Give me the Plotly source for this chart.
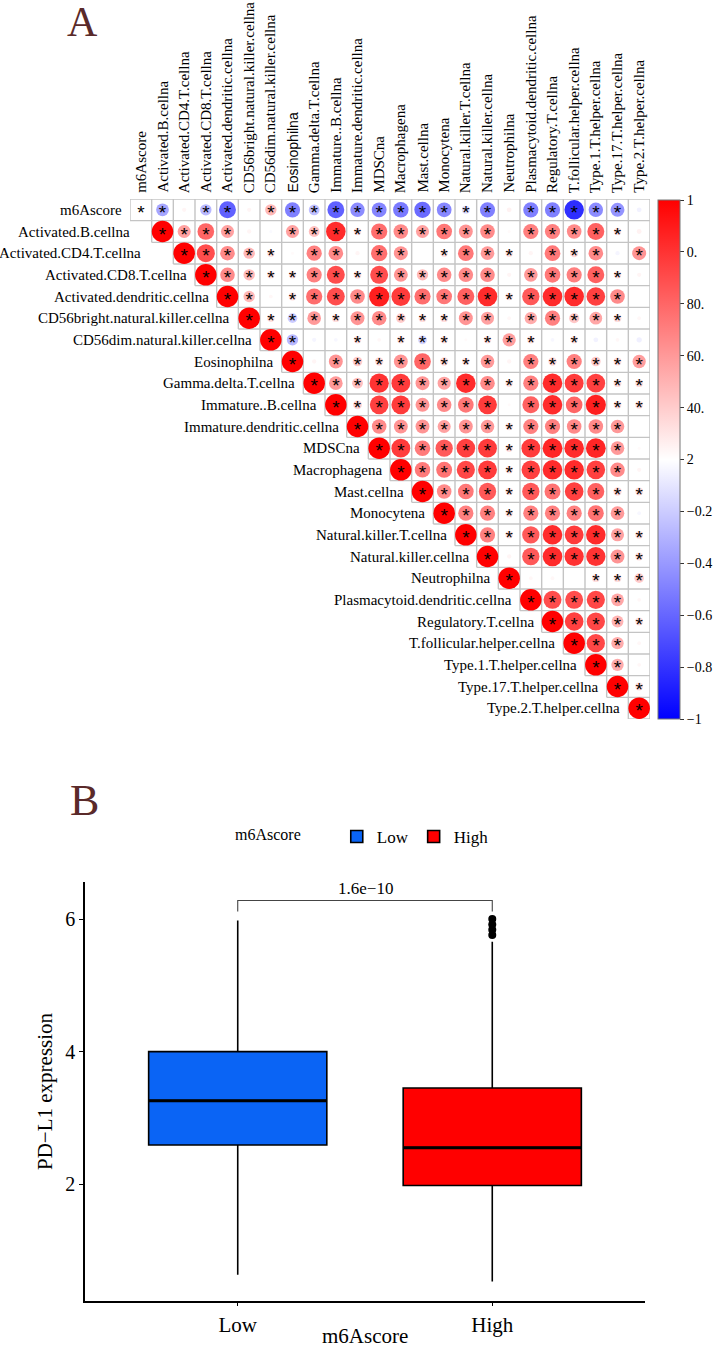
import numpy as np
import plotly.graph_objects as go

# ---------------- data ----------------
cells = [
    "m6Ascore", "Activated.B.cellna", "Activated.CD4.T.cellna", "Activated.CD8.T.cellna",
    "Activated.dendritic.cellna", "CD56bright.natural.killer.cellna", "CD56dim.natural.killer.cellna",
    "Eosinophilna", "Gamma.delta.T.cellna", "Immature..B.cellna", "Immature.dendritic.cellna",
    "MDSCna", "Macrophagena", "Mast.cellna", "Monocytena", "Natural.killer.T.cellna",
    "Natural.killer.cellna", "Neutrophilna", "Plasmacytoid.dendritic.cellna", "Regulatory.T.cellna",
    "T.follicular.helper.cellna", "Type.1.T.helper.cellna", "Type.17.T.helper.cellna",
    "Type.2.T.helper.cellna",
]

# upper triangle of the correlation matrix, row i holds columns i..23
corr_upper = [
    [1, -0.35, 0.04, -0.28, -0.62, 0.04, 0.28, -0.5, -0.25, -0.62, -0.45, -0.48, -0.52, -0.58, -0.47, -0.14, -0.5, 0.05, -0.5, -0.5, -0.82, -0.45, -0.42, -0.05],
    [1, 0.37, 0.6, 0.37, 0.04, -0.02, 0.37, 0.25, 0.83, 0.12, 0.57, 0.46, 0.37, 0.53, 0.42, 0.46, 0.02, 0.5, 0.5, 0.46, 0.62, 0.12, 0.05],
    [1, 0.7, 0.46, 0.28, 0.12, 0.02, 0.5, 0.46, 0.04, 0.57, 0.42, 0.0, 0.12, 0.53, 0.4, 0.12, 0.04, 0.53, 0.15, 0.46, -0.04, 0.42],
    [1, 0.46, 0.28, 0.12, 0.12, 0.5, 0.7, 0.13, 0.7, 0.42, 0.28, 0.46, 0.46, 0.46, 0.04, 0.4, 0.53, 0.5, 0.62, 0.12, 0.04],
    [1, 0.28, 0.03, 0.13, 0.57, 0.7, 0.46, 0.88, 0.77, 0.57, 0.53, 0.62, 0.83, 0.12, 0.65, 0.83, 0.83, 0.75, 0.46, 0.0],
    [1, 0.12, -0.2, 0.4, 0.13, 0.42, 0.46, 0.2, 0.13, 0.13, 0.42, 0.37, 0.03, 0.33, 0.5, 0.22, 0.35, 0.13, 0.03],
    [1, -0.28, -0.04, -0.03, 0.12, 0.03, 0.12, -0.17, 0.12, 0.02, 0.12, 0.38, 0.12, -0.03, 0.12, -0.05, 0.03, -0.06],
    [1, 0.04, 0.42, 0.2, 0.15, 0.42, 0.6, 0.15, 0.12, 0.4, 0.04, 0.5, 0.15, 0.5, 0.2, 0.13, 0.38],
    [1, 0.4, 0.25, 0.8, 0.77, 0.42, 0.37, 0.83, 0.46, 0.12, 0.5, 0.83, 0.77, 0.75, 0.13, 0.13],
    [1, 0.17, 0.75, 0.77, 0.42, 0.46, 0.53, 0.77, 0.02, 0.62, 0.83, 0.6, 0.88, 0.13, 0.13],
    [1, 0.46, 0.42, 0.42, 0.37, 0.42, 0.4, 0.12, 0.5, 0.5, 0.46, 0.46, 0.4, 0.0],
    [1, 0.77, 0.52, 0.65, 0.75, 0.77, 0.12, 0.77, 0.85, 0.83, 0.85, 0.4, 0.02],
    [1, 0.52, 0.55, 0.72, 0.77, 0.12, 0.75, 0.83, 0.83, 0.75, 0.46, 0.04],
    [1, 0.46, 0.53, 0.65, 0.12, 0.65, 0.55, 0.75, 0.62, 0.15, 0.13],
    [1, 0.5, 0.5, 0.12, 0.5, 0.5, 0.5, 0.55, 0.4, -0.03],
    [1, 0.5, 0.12, 0.65, 0.83, 0.77, 0.83, 0.37, 0.13],
    [1, 0.04, 0.65, 0.83, 0.8, 0.8, 0.42, 0.13],
    [1, 0.03, 0.03, 0.0, 0.13, 0.13, 0.2],
    [1, 0.7, 0.7, 0.72, 0.35, 0.03],
    [1, 0.75, 0.72, 0.3, 0.13],
    [1, 0.72, 0.33, 0.03],
    [1, 0.33, 0.03],
    [1, 0.13],
    [1],
]
sig_threshold = 0.1
hidden_cells = [(0, 0)]

cb_tickvals = [1, 0.8, 0.6, 0.4, 0.2, 0, -0.2, -0.4, -0.6, -0.8, -1]
cb_ticktext = ["1", "0.", "80.", "60.", "40.", "2", "\u22120.2", "\u22120.4", "\u22120.6", "\u22120.8", "\u22121"]

box_groups = ["Low", "High"]
box_colors = ["#0A64F5", "#FF0000"]
box_q1 = [2.59, 1.98]
box_median = [3.26, 2.55]
box_q3 = [4.00, 3.45]
box_lowerfence = [0.63, 0.53]
box_upperfence = [5.98, 5.66]
high_outliers = [6.00, 5.92, 5.84, 5.76]
p_value_text = "1.6e\u221210"
bracket_y = 6.28
bracket_drop = 0.165
y_ticks = [2, 4, 6]

# ---------------- layout helpers ----------------
W, H = 714, 1350
SERIF = "Liberation Serif"
SANS = "Liberation Sans"


def fx(p):
    return p / W


def fy(p):
    return 1 - p / H


n = len(cells)
MX0, MX1, MY0, MY1 = 130, 650, 199, 719
circle_full = 21.5
star_size = 19
star_drop = 0.2

fig = go.Figure()

# grid of the upper triangle
gxs, gys = [], []
for k in range(n + 1):
    gxs += [max(k - 1, 0) - 0.5, n - 0.5, None]
    gys += [k - 0.5, k - 0.5, None]
for k in range(n + 1):
    gxs += [k - 0.5, k - 0.5, None]
    gys += [-0.5, min(k, n - 1) + 0.5, None]
fig.add_trace(go.Scatter(x=gxs, y=gys, mode="lines", line=dict(color="#c4c4c4", width=1.4),
                         hoverinfo="skip", showlegend=False, xaxis="x", yaxis="y"))

cx, cy, cv, cs = [], [], [], []
sx, sy = [], []
for i in range(n):
    for j in range(i, n):
        v = corr_upper[i][j - i]
        if (i, j) not in hidden_cells:
            cx.append(j)
            cy.append(i)
            cv.append(v)
            cs.append(circle_full * np.sqrt(abs(v)))
        if abs(v) >= sig_threshold:
            sx.append(j)
            sy.append(i + star_drop)

fig.add_trace(go.Scatter(
    x=cx, y=cy, mode="markers", hoverinfo="skip", showlegend=False, xaxis="x", yaxis="y",
    marker=dict(size=cs, color=cv, cmin=-1, cmax=1,
                colorscale=[[0, "#0000FF"], [0.5, "#FFFFFF"], [1, "#FF0000"]],
                line=dict(width=0), opacity=1,
                showscale=True,
                colorbar=dict(x=fx(658), xanchor="left", xpad=0, ypad=0,
                              y=fy(200), yanchor="top", len=(719 - 200) / H, lenmode="fraction",
                              thickness=22, thicknessmode="pixels",
                              outlinewidth=1, outlinecolor="#777777",
                              tickvals=cb_tickvals, ticktext=cb_ticktext,
                              ticks="outside", ticklen=4, tickcolor="#333333",
                              tickfont=dict(family=SERIF, size=14, color="black"))),
))

# significance asterisks as text
fig.add_trace(go.Scatter(x=sx, y=sy, mode="text", text=["*"] * len(sx),
                         textposition="middle center",
                         textfont=dict(family=SANS, size=star_size, color="black"),
                         hoverinfo="skip", showlegend=False, xaxis="x", yaxis="y"))

annotations = []
label_right_px = {1: 132, 2: 143}
for i, name in enumerate(cells):
    if i in label_right_px:
        annotations.append(dict(text=name, xref="paper", yref="y", x=fx(label_right_px[i]), y=i,
                                xanchor="right", yanchor="middle", showarrow=False,
                                font=dict(family=SERIF, size=15, color="black")))
    else:
        annotations.append(dict(text=name, xref="x", yref="y", x=i - 0.5, y=i, xshift=-6,
                                xanchor="right", yanchor="middle", showarrow=False,
                                font=dict(family=SERIF, size=15, color="black")))
col_font_override = {7: SANS}
for j, name in enumerate(cells):
    fam = col_font_override.get(j, SERIF)
    annotations.append(dict(text=name, xref="x", yref="paper", x=j, y=fy(195), textangle=-90,
                            xanchor="center", yanchor="bottom", showarrow=False,
                            font=dict(family=fam, size=15 if fam == SERIF else 14, color="black")))

# ---------------- boxplot ----------------
for k, g in enumerate(box_groups):
    fig.add_trace(go.Box(
        x=[k], q1=[box_q1[k]], median=[box_median[k]], q3=[box_q3[k]],
        lowerfence=[box_lowerfence[k]], upperfence=[box_upperfence[k]],
        name=g, fillcolor=box_colors[k], line=dict(color="black", width=1.6),
        width=0.7, whiskerwidth=0, boxpoints=False, hoverinfo="skip",
        xaxis="x2", yaxis="y2", showlegend=True))
    fig.add_trace(go.Scatter(x=[k - 0.35, k + 0.35], y=[box_median[k]] * 2, mode="lines",
                             line=dict(color="black", width=3), hoverinfo="skip",
                             showlegend=False, xaxis="x2", yaxis="y2"))

fig.add_trace(go.Scatter(x=[1] * len(high_outliers), y=high_outliers, mode="markers",
                         marker=dict(color="black", size=8), hoverinfo="skip",
                         showlegend=False, xaxis="x2", yaxis="y2"))

fig.add_trace(go.Scatter(x=[0, 0, 1, 1],
                         y=[bracket_y - bracket_drop, bracket_y, bracket_y, bracket_y - bracket_drop],
                         mode="lines", line=dict(color="#444444", width=1.1), hoverinfo="skip",
                         showlegend=False, xaxis="x2", yaxis="y2"))
annotations.append(dict(text=p_value_text, xref="x2", yref="y2", x=0.5, y=bracket_y, yshift=1,
                        xanchor="center", yanchor="bottom", showarrow=False,
                        font=dict(family=SERIF, size=17, color="black")))

annotations.append(dict(text="PD\u2212L1 expression", xref="paper", yref="paper", x=fx(45), y=fy(1091),
                        textangle=-90, xanchor="center", yanchor="middle", showarrow=False,
                        font=dict(family=SERIF, size=21, color="black")))
annotations.append(dict(text="m6Ascore", xref="paper", yref="paper", x=fx(365), y=fy(1336),
                        xanchor="center", yanchor="middle", showarrow=False,
                        font=dict(family=SERIF, size=21, color="black")))
annotations.append(dict(text="A", xref="paper", yref="paper", x=fx(82), y=fy(22),
                        xanchor="center", yanchor="middle", showarrow=False,
                        font=dict(family=SERIF, size=42, color="#5a2a2a")))
annotations.append(dict(text="B", xref="paper", yref="paper", x=fx(84), y=fy(800),
                        xanchor="center", yanchor="middle", showarrow=False,
                        font=dict(family=SERIF, size=44, color="#5a2a2a")))

fig.update_layout(
    width=W, height=H, margin=dict(l=0, r=0, t=0, b=0),
    paper_bgcolor="white", plot_bgcolor="rgba(0,0,0,0)",
    font=dict(family=SERIF, color="black"),
    xaxis=dict(domain=[fx(MX0), fx(MX1)], range=[-0.5, n - 0.5], visible=False, fixedrange=True),
    yaxis=dict(domain=[fy(MY1), fy(MY0)], range=[n - 0.5, -0.5], visible=False, fixedrange=True),
    xaxis2=dict(domain=[fx(85), fx(645)], range=[-0.6, 1.6], anchor="y2",
                tickvals=list(range(len(box_groups))), ticktext=box_groups,
                showline=True, linecolor="black", linewidth=1.5, ticks="outside", ticklen=4,
                tickcolor="black", showgrid=False, zeroline=False,
                tickfont=dict(family=SERIF, size=21, color="black")),
    yaxis2=dict(domain=[fy(1300.7), fy(882)], range=[0.24, 6.56], anchor="x2",
                tickvals=y_ticks, showline=True, linecolor="black", linewidth=1.5,
                ticks="outside", ticklen=4, tickcolor="black", showgrid=False, zeroline=False,
                tickfont=dict(family=SERIF, size=20, color="black")),
    legend=dict(orientation="h", x=fx(233), xanchor="left", y=fy(837), yanchor="middle",
                title=dict(text="m6Ascore" + "\u00a0" * 7, side="left",
                           font=dict(family=SERIF, size=16)),
                font=dict(family=SERIF, size=17, color="black"), bgcolor="rgba(0,0,0,0)",
                itemwidth=30),
    annotations=annotations,
)

fig.write_html("out.html", config={"displayModeBar": False},
               post_script="document.body.style.margin='0px';document.body.style.overflow='hidden';")
